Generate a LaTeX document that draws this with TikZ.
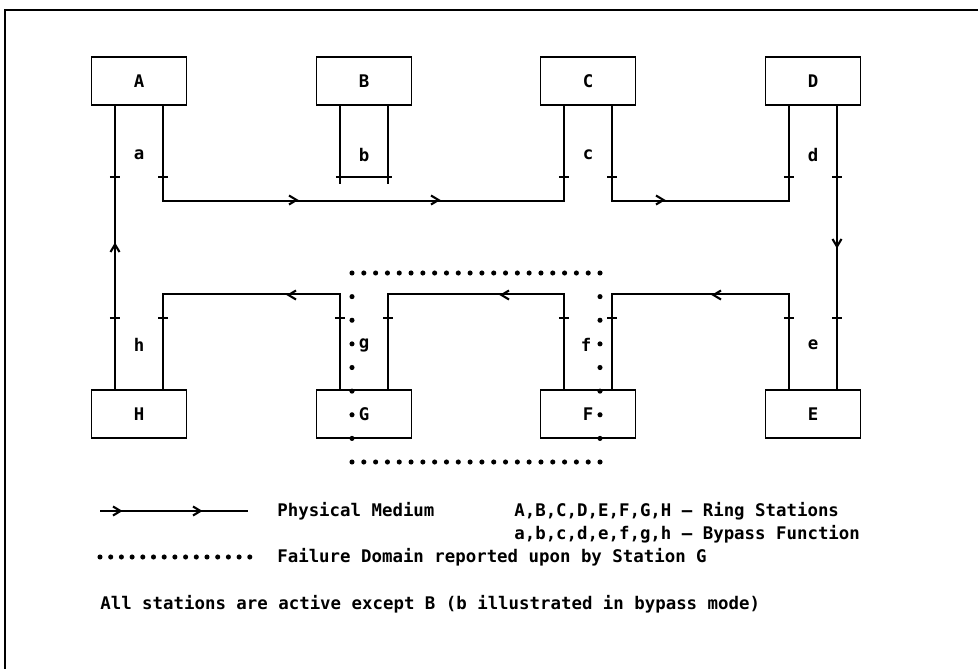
\documentclass[tikz,border=0pt]{standalone}
\usepackage{fontspec}
\newfontfamily\dotfont{DejaVu Sans Mono}
\usetikzlibrary{calc}
\tikzset{
  station/.style={draw, line width=1.1pt, minimum width=1.9cm, minimum height=0.96cm, inner sep=0pt},
  medium/.style={line width=1.1pt},
  legendtext/.style={anchor=west, inner sep=0pt},
  pics/chev/.style={code={\draw[line width=1.2pt] (-4,-4.5) -- (3.5,0) -- (-4,4.5);}},
  pics/porttick/.style={code={\draw[line width=1.1pt] (-5,0) -- (5,0);}}
}

\begin{document}
\begin{tikzpicture}[x=0.02cm, y=-0.02cm, every node/.style={font=\dotfont\bfseries\fontsize{9.9}{12}\selectfont}]
  \useasboundingbox (0,0) rectangle (978,669);
  \draw[medium] (5,669) -- (5,10) -- (978,10);

  % ring stations
  \node[station] (A) at (139,81) {A};
  \node[station] (B) at (364,81) {B};
  \node[station] (C) at (588,81) {C};
  \node[station] (D) at (813,81) {D};
  \node[station] (H) at (139,414) {H};
  \node[station] (G) at (364,414) {G};
  \node[station] (F) at (588,414) {F};
  \node[station] (E) at (813,414) {E};

  % ports
  \foreach \s in {A,B,C,D} {
    \coordinate (\s1) at ($(\s.south west)!0.25!(\s.south east)$);
    \coordinate (\s2) at ($(\s.south west)!0.75!(\s.south east)$);
  }
  \foreach \s in {H,G,F,E} {
    \coordinate (\s1) at ($(\s.north west)!0.25!(\s.north east)$);
    \coordinate (\s2) at ($(\s.north west)!0.75!(\s.north east)$);
  }

  % physical medium
  \draw[medium] (A1) -- (H1);
  \draw[medium] (D2) -- (E2);
  \draw[medium] (A2) -- ++(0,95) -| (C1);
  \draw[medium] (C2) -- ++(0,95) -| (D1);
  \draw[medium] (E1) -- ++(0,-95) -| (F2);
  \draw[medium] (F1) -- ++(0,-95) -| (G2);
  \draw[medium] (G1) -- ++(0,-95) -| (H2);
  % b in bypass mode
  \draw[medium] (B1) -- ++(0,78) (B2) -- ++(0,78);
  \draw[medium] ($(B1)+(-4,71)$) -- ($(B2)+(4,71)$);

  \foreach \p in {(293,200),(435,200),(660,200)} \pic at \p {chev};
  \foreach \p in {(292,295),(505,295),(717,295)} \pic[rotate=180] at \p {chev};
  \pic[rotate=90] at (115,248) {chev};
  \pic[rotate=-90] at (837,243) {chev};
  \foreach \p in {A1,A2,C1,C2,D1,D2} \pic at ($(\p)+(0,71)$) {porttick};
  \foreach \p in {H1,H2,G1,G2,F1,F2,E1,E2} \pic at ($(\p)+(0,-71)$) {porttick};

  % bypass functions
  \node (a) at (139,155) {a};
  \node (b) at (364,155) {b};
  \node (c) at (588,155) {c};
  \node (d) at (813,155) {d};
  \node (h) at (139,345) {h};
  \node (g) at (364,345) {g};
  \node (f) at (586,345) {f};
  \node (e) at (813,345) {e};

  % failure domain
  \foreach \i in {0,...,21} {
    \fill (352+\i*11.81,273) circle (1.45pt);
    \fill (352+\i*11.81,462) circle (1.45pt);
  }
  \foreach \j in {1,...,7} {
    \fill (352,273+\j*23.63) circle (1.45pt);
    \fill (600,273+\j*23.63) circle (1.45pt);
  }

  % legend
  \draw[medium] (100,511) -- (248,511);
  \pic at (117,511) {chev};
  \pic at (197,511) {chev};
  \foreach \i in {0,...,14} \fill (100+\i*10.7,557) circle (1.45pt);
  \node[legendtext] (medtxt) at (277,511) {Physical Medium};
  \node[legendtext] (stntxt) at (514,511) {A,B,C,D,E,F,G,H – Ring Stations};
  \node[legendtext] (bypstxt) at (514,534) {a,b,c,d,e,f,g,h – Bypass Function};
  \node[legendtext] (domtxt) at (277,557) {Failure Domain reported upon by Station G};
  \node[legendtext] (notetxt) at (100,604) {All stations are active except B (b illustrated in bypass mode)};
\end{tikzpicture}
\end{document}
